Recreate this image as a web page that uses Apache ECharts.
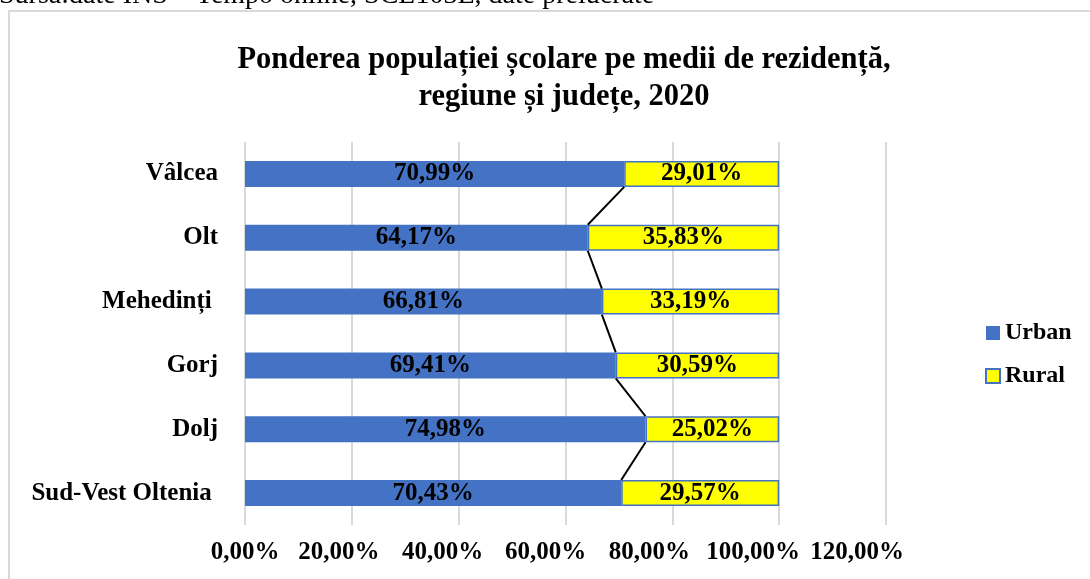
<!DOCTYPE html>
<html>
<head>
<meta charset="utf-8">
<script src="https://cdn.jsdelivr.net/npm/echarts@6/dist/echarts.min.js"></script>
<style>
  html, body { margin: 0; padding: 0; background: #fff; }
  #chart { width: 1090px; height: 579px; }
</style>
</head>
<body>
<div id="chart"></div>
<script>
// bottom to top, as the category axis draws them
const regions = ['Sud-Vest Oltenia ', 'Dolj', 'Gorj', 'Mehedinți ', 'Olt', 'Vâlcea'];
const urban = [70.43, 74.98, 69.41, 66.81, 64.17, 70.99];
const rural = [29.57, 25.02, 30.59, 33.19, 35.83, 29.01];
const xTicks = [0, 20, 40, 60, 80, 100, 120];

const serif = '"Liberation Serif", "Times New Roman", serif';
const fmt = v => v.toFixed(2).replace('.', ',') + '%';
const BAR = 26;

// series lines between the urban ends of neighbouring bars
const links = [];
for (let i = 0; i < urban.length - 1; i++) {
  links.push([urban[i], i, urban[i + 1], i + 1]);
}

// the tick labels in the original drift a little to the left of their gridlines
const tickRich = {};
xTicks.forEach(v => {
  const shift = v === 0 ? 0 : Math.round(10 + v * 0.16);
  tickRich['t' + v] = {
    fontFamily: serif, fontWeight: 'bold', fontSize: 25, color: '#000',
    padding: [0, shift * 2, 0, 0]
  };
});

const chart = echarts.init(document.getElementById('chart'));

const option = {
  animation: false,
  graphic: [
    {
      type: 'text',
      left: -1, top: -18,
      style: { text: 'Sursa:date INS – Tempo online, SCL103E, date prelucrate', font: '28px ' + serif, fill: '#000' }
    },
    {
      type: 'rect',
      shape: { x: 9, y: 11, width: 1200, height: 700 },
      style: { fill: 'none', stroke: '#d9d9d9', lineWidth: 2 }
    }
  ],
  title: {
    text: 'Ponderea populației școlare pe medii de rezidență,\nregiune și județe, 2020',
    left: 559, top: 37, textAlign: 'center',
    textStyle: { fontFamily: serif, fontWeight: 'bold', fontSize: 30.5, lineHeight: 37, color: '#000' }
  },
  legend: {
    orient: 'vertical',
    left: 980, top: 316,
    itemWidth: 14, itemHeight: 14, itemGap: 19,
    icon: 'rect',
    data: ['Urban', 'Rural'],
    textStyle: { fontFamily: serif, fontWeight: 'bold', fontSize: 24, color: '#000' }
  },
  grid: { left: 245, right: 204, top: 142, bottom: 54 },
  xAxis: {
    type: 'value',
    min: 0, max: 120, interval: 20,
    axisLine: { show: false },
    axisTick: { show: false },
    splitLine: { lineStyle: { color: '#d9d9d9', width: 2 } },
    axisLabel: {
      margin: 15,
      fontFamily: serif, fontWeight: 'bold', fontSize: 25, color: '#000',
      rich: tickRich,
      formatter: v => xTicks.includes(v) ? '{t' + v + '|' + fmt(v) + '}' : ''
    }
  },
  yAxis: {
    type: 'category',
    data: regions,
    axisLine: { show: false },
    axisTick: { show: false },
    axisLabel: { margin: 27, fontFamily: serif, fontWeight: 'bold', fontSize: 25, color: '#000' }
  },
  series: [
    {
      name: 'Urban', type: 'bar', stack: 'total',
      data: urban, barWidth: BAR,
      itemStyle: { color: '#4472c4' },
      label: {
        show: true, position: 'inside',
        fontFamily: serif, fontWeight: 'bold', fontSize: 25, color: '#000',
        formatter: p => fmt(p.value)
      }
    },
    {
      name: 'Rural', type: 'bar', stack: 'total',
      data: rural, barWidth: BAR,
      itemStyle: { color: '#ffff00', borderColor: '#4472c4', borderWidth: 1.5 },
      label: {
        show: true, position: 'inside',
        fontFamily: serif, fontWeight: 'bold', fontSize: 25, color: '#000',
        formatter: p => fmt(p.value)
      }
    },
    {
      type: 'custom',
      silent: true,
      z: 5,
      encode: { x: [0, 2], y: [1, 3] },
      data: links,
      renderItem: (params, api) => {
        const a = api.coord([api.value(0), api.value(1)]);
        const b = api.coord([api.value(2), api.value(3)]);
        return {
          type: 'line',
          shape: { x1: a[0], y1: a[1] - BAR / 2, x2: b[0], y2: b[1] + BAR / 2 },
          style: { stroke: '#000', lineWidth: 2 }
        };
      }
    }
  ]
};

chart.setOption(option);
</script>
</body>
</html>
